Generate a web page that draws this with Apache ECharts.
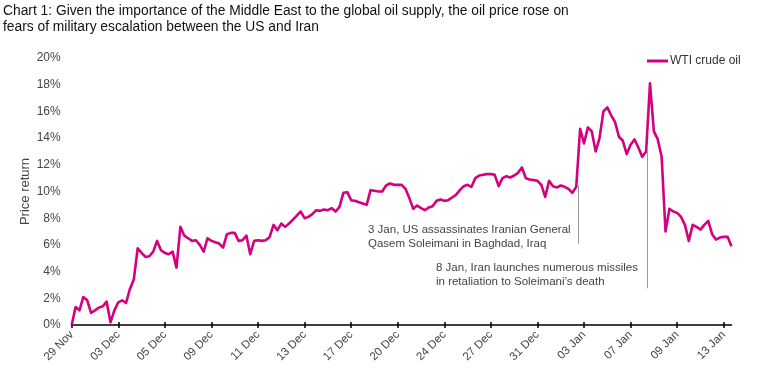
<!DOCTYPE html>
<html>
<head>
<meta charset="utf-8">
<script src="https://cdn.jsdelivr.net/npm/echarts@6/dist/echarts.min.js"></script>
<style>
html,body{margin:0;padding:0;background:#fff;}
#chart{width:757px;height:378px;}
</style>
</head>
<body>
<div id="chart"></div>
<script>
// Tick labels on the x axis (one every 12 intraday points)
const tickLabels = ['29 Nov','03 Dec','05 Dec','09 Dec','11 Dec','13 Dec','17 Dec','20 Dec','24 Dec','27 Dec','31 Dec','03 Jan','07 Jan','09 Jan','13 Jan'];
const pointsPerTick = 12;
// WTI crude oil price return (%)
const wtiReturn = [
  0.0, 1.35, 1.1, 2.1, 1.85, 0.9, 1.1, 1.3, 1.4, 1.75,
  0.2, 1.1, 1.7, 1.85, 1.65, 2.7, 3.4, 5.75, 5.4, 5.1,
  5.15, 5.5, 6.3, 5.6, 5.4, 5.3, 5.5, 4.3, 7.35, 6.7,
  6.5, 6.3, 6.35, 6.0, 5.5, 6.5, 6.3, 6.2, 6.1, 5.8,
  6.8, 6.9, 6.9, 6.3, 6.35, 6.7, 5.3, 6.3, 6.35, 6.3,
  6.35, 6.6, 7.5, 7.1, 7.6, 7.35, 7.6, 7.9, 8.2, 8.5,
  8.0, 8.1, 8.3, 8.6, 8.55, 8.65, 8.6, 8.75, 8.5, 8.85,
  9.9, 9.95, 9.35, 9.3, 9.2, 9.1, 9.0, 10.1, 10.05, 10.0,
  10.0, 10.45, 10.6, 10.5, 10.5, 10.5, 10.2, 9.5, 8.7, 8.95,
  8.75, 8.6, 8.8, 8.9, 9.3, 9.4, 9.3, 9.35, 9.55, 9.75,
  10.1, 10.4, 10.5, 10.35, 11.0, 11.2, 11.25, 11.3, 11.3, 11.25,
  10.4, 11.0, 11.15, 11.05, 11.2, 11.4, 11.8, 11.0, 10.9, 10.85,
  10.8, 10.5, 9.6, 10.8, 10.4, 10.3, 10.45, 10.35, 10.2, 9.9,
  10.35, 14.7, 13.6, 14.8, 14.5, 13.0, 14.0, 16.0, 16.3, 15.7,
  15.2, 14.1, 13.8, 12.8, 13.5, 13.9, 13.3, 12.6, 13.0, 18.1,
  14.5, 13.9, 12.6, 7.0, 8.7, 8.5, 8.4, 8.1, 7.5, 6.3,
  7.5, 7.35, 7.15, 7.5, 7.8, 6.8, 6.4, 6.55, 6.6, 6.6,
  5.9
];
// Event annotations: [x index, top value, bottom value]
const eventLines = [[130.6, 10.5, 6.1], [148.3, 13.0, 2.75]];
const eventTexts = [
  '3 Jan, US assassinates Iranian General\nQasem Soleimani in Baghdad, Iraq',
  '8 Jan, Iran launches numerous missiles\nin retaliation to Soleimani\u2019s death'
];
const titleText = 'Chart 1: Given the importance of the Middle East to the global oil supply, the oil price rose on\nfears of military escalation between the US and Iran';

const FONT = '"Liberation Sans", Arial, sans-serif';
const lastIndex = wtiReturn.length - 1;
const tickValues = tickLabels.map((_, i) => i * pointsPerTick);

const chart = echarts.init(document.getElementById('chart'), null, {renderer: 'canvas'});
chart.setOption({
  animation: false,
  title: {
    text: titleText,
    left: 3, top: 3, padding: 0,
    textStyle: {fontFamily: FONT, fontSize: 13.8, fontWeight: 'normal', color: '#111', lineHeight: 16}
  },
  legend: {
    data: [{name: 'WTI crude oil', icon: 'rect'}],
    left: 647, top: 55, padding: 0,
    itemWidth: 21, itemHeight: 3, itemGap: 4,
    textStyle: {fontFamily: FONT, fontSize: 12, color: '#333', padding: [0,0,0,-3]}
  },
  grid: {left: 71.7, right: 25.5, top: 58, bottom: 53, containLabel: false},
  xAxis: [{
    type: 'value', min: 0, max: lastIndex,
    splitLine: {show: false},
    axisLine: {show: true, lineStyle: {color: '#000', width: 1.5}},
    axisTick: {show: true, customValues: tickValues, length: 3, lineStyle: {color: '#000', width: 1.5}},
    axisLabel: {
      customValues: tickValues, rotate: 45, margin: 8,
      fontFamily: FONT, fontSize: 11.5, color: '#444',
      formatter: v => tickLabels[Math.round(v / pointsPerTick)] || ''
    }
  }, {
    type: 'value', min: 0, max: lastIndex, position: 'bottom',
    splitLine: {show: false},
    axisLine: {show: false},
    axisTick: {show: true, inside: true, customValues: tickValues, length: 3, lineStyle: {color: '#000', width: 1.5}},
    axisLabel: {show: false}
  }],
  yAxis: {
    type: 'value', min: 0, max: 20, interval: 2,
    name: 'Price return', nameLocation: 'middle', nameGap: 40, nameMoveOverlap: false,
    nameTextStyle: {fontFamily: FONT, fontSize: 13, color: '#444'},
    splitLine: {show: false},
    axisLine: {show: false}, axisTick: {show: false},
    axisLabel: {margin: 11, fontFamily: FONT, fontSize: 12, color: '#444', formatter: v => v + '%'}
  },
  series: [{
    name: 'WTI crude oil', type: 'line',
    data: wtiReturn.map((v, i) => [i, v]),
    showSymbol: false, symbol: 'none',
    lineStyle: {color: '#d4007f', width: 2.6, join: 'round'},
    itemStyle: {color: '#d4007f'},
    z: 3,
    markLine: {
      silent: true, symbol: 'none', z: 2,
      lineStyle: {color: '#999', width: 1, type: 'solid'},
      label: {show: false},
      data: eventLines.map(e => [{coord: [e[0], e[1]]}, {coord: [e[0], e[2]]}])
    }
  }],
  graphic: [
    {type: 'text', left: 368, top: 223, style: {text: eventTexts[0], font: '11.5px ' + FONT, fill: '#444', lineHeight: 14}},
    {type: 'text', left: 436, top: 261, style: {text: eventTexts[1], font: '11.5px ' + FONT, fill: '#444', lineHeight: 14}}
  ]
});
</script>
</body>
</html>
